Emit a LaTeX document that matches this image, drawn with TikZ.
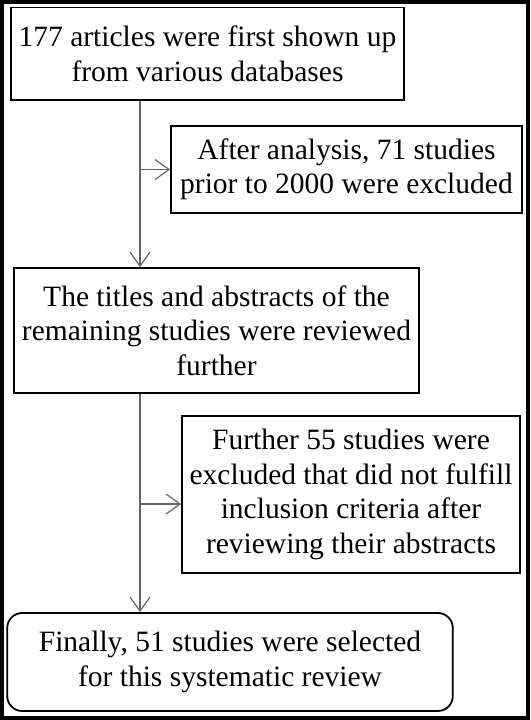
\documentclass[tikz,border=0pt]{standalone}
\usepackage{fontspec}
\setmainfont{Liberation Serif}
\usetikzlibrary{arrows.meta}
\tikzset{
  stage/.style={draw=black,line width=1.8pt,align=center,inner sep=0pt,
    font=\fontsize{29.5}{34.5}\selectfont},
  final/.style={stage,rounded corners=15pt},
  flow/.style={draw=black!60,line width=1.2pt,
    -{Straight Barb[length=14pt,width=20pt,line width=1.2pt]}}
}
\begin{document}
\begin{tikzpicture}[x=1pt,y=-1pt]
      \fill[black] (0,0) rectangle (530,720);
      \fill[white] (4,4) rectangle (526,716);
      \draw
        (207.5,53.7) node[stage,minimum width=393pt,minimum height=92.6pt] (found)
          {177 articles were first shown up\\from various databases}
        (346.5,169.5) node[stage,minimum width=351pt,minimum height=87pt] (old)
          {After analysis, 71 studies\\prior to 2000 were excluded}
        (216.5,330.5) node[stage,minimum width=405pt,minimum height=125pt] (screen)
          {The titles and abstracts of the\\remaining studies were reviewed\\further}
        (351,494.5) node[stage,minimum width=338pt,minimum height=157pt] (excl)
          {Further 55 studies were\\excluded that did not fulfill\\inclusion criteria after\\reviewing their abstracts}
        (230,662) node[final,minimum width=445.6pt,minimum height=98pt] (selected)
          {Finally, 51 studies were selected\\for this systematic review};
      \coordinate (b1) at (140,169.5);
      \coordinate (b2) at (140,504);
      \begin{scope}[flow]
        \draw (b1 |- found.south) to (b1 |- screen.north);
        \draw (b1) to (old.west);
        \draw (b2 |- screen.south) to (b2 |- selected.north);
        \draw (b2) to (b2 -| excl.west);
      \end{scope}
    \end{tikzpicture}
\end{document}
